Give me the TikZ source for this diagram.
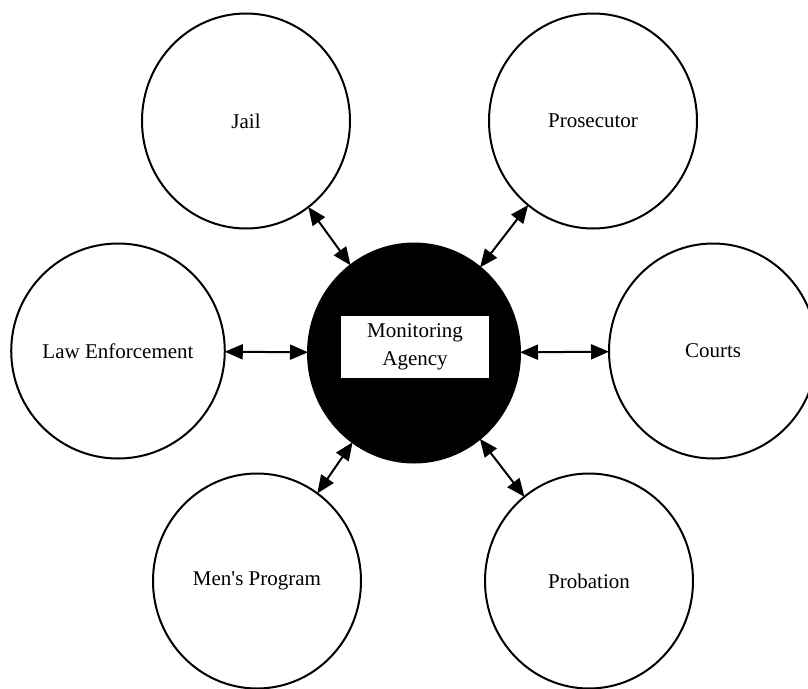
\documentclass[tikz,border=0pt]{standalone}
\usepackage{fontspec}
\setmainfont{Liberation Serif}
\usetikzlibrary{shapes.geometric,arrows.meta}
\newlength{\du}
\setlength{\du}{15\unitlength}
\definecolor{dialinecolor}{rgb}{0.000000, 0.000000, 0.000000}
\tikzset{
  diaellipse/.style={ellipse, draw=dialinecolor, line width=0.133333\du, inner sep=0pt, outer sep=0pt,
    minimum width=13.866667\du, minimum height=14.333333\du, font=\fontsize{21}{28}\selectfont},
  diahub/.style={diaellipse, fill=dialinecolor, minimum width=14.133333\du, minimum height=14.600000\du},
  dialabel/.style={fill=white, inner sep=0pt, minimum width=9.866667\du, minimum height=4.133333\du,
    align=center, font=\fontsize{21}{28}\selectfont},
  dialink/.style={draw=dialinecolor, line width=0.133333\du,
    {Triangle[length=18pt,width=15pt]}-{Triangle[length=18pt,width=15pt]}}
}
\begin{document}
\begin{tikzpicture}
\pgftransformxscale{1.000000}
\pgftransformyscale{-1.000000}
\useasboundingbox (0\du,0\du) rectangle (53.866667\du,45.866667\du);
% hub
\definecolor{dialinecolor}{rgb}{0.000000, 0.000000, 0.000000}
\node[diahub] (agency) at (27.600000\du,23.533333\du) {};
\node[dialabel] (agencytext) at (27.666667\du,23.133333\du) {Monitoring\\Agency};
% outer ellipses
\node[diaellipse] (jail) at (16.400000\du,8.066667\du) {Jail};
\node[diaellipse] (prosecutor) at (39.533333\du,8.066667\du) {Prosecutor};
\node[diaellipse] (lawenf) at (7.866667\du,23.400000\du) {Law Enforcement};
\node[diaellipse] (courts) at (47.533333\du,23.400000\du) {Courts};
\node[diaellipse] (mensprog) at (17.133333\du,38.733333\du) {Men\textquotesingle s Program};
\node[diaellipse] (probation) at (39.266667\du,38.733333\du) {Probation};
% links
\draw[dialink] (jail) -- (agency);
\draw[dialink] (prosecutor) -- (agency);
\draw[dialink] (lawenf) -- (agency);
\draw[dialink] (courts) -- (agency);
\draw[dialink] (mensprog) -- (agency);
\draw[dialink] (probation) -- (agency);
\end{tikzpicture}
\end{document}
